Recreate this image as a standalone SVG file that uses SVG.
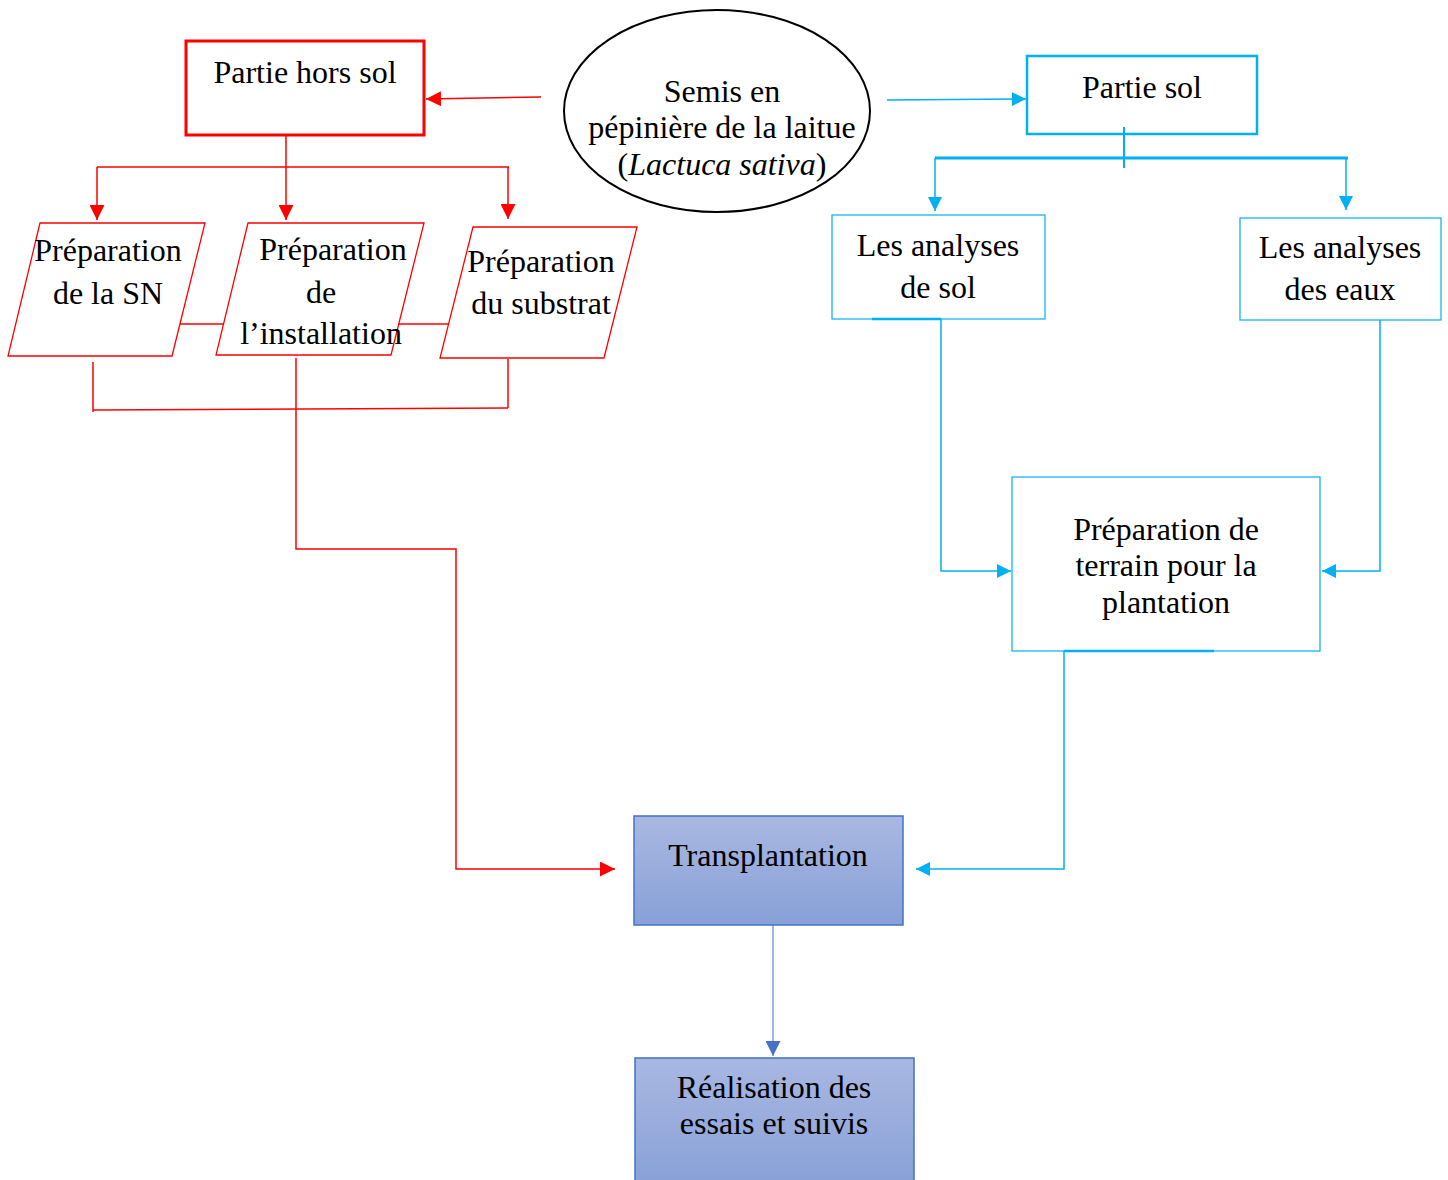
<svg xmlns="http://www.w3.org/2000/svg" width="1448" height="1180" viewBox="0 0 1448 1180">
<defs>
<linearGradient id="g" x1="0" y1="0" x2="0" y2="1">
<stop offset="0" stop-color="#A9B8E2"/>
<stop offset="1" stop-color="#88A0D7"/>
</linearGradient>
<marker id="ar" viewBox="0 0 10 10" refX="10" refY="5" markerWidth="15" markerHeight="15" markerUnits="userSpaceOnUse" orient="auto"><path d="M0,0 L10,5 L0,10 Z" fill="#FF0000"/></marker>
<marker id="ab" viewBox="0 0 10 10" refX="10" refY="5" markerWidth="14" markerHeight="14" markerUnits="userSpaceOnUse" orient="auto"><path d="M0,0 L10,5 L0,10 Z" fill="#00B0F0"/></marker>
<marker id="ad" viewBox="0 0 10 10" refX="10" refY="5" markerWidth="15" markerHeight="15" markerUnits="userSpaceOnUse" orient="auto"><path d="M0,0 L10,5 L0,10 Z" fill="#4472C4"/></marker>
</defs>
<style>
text{font-family:"Liberation Serif","Times New Roman",serif;font-size:32px;fill:#000;text-anchor:middle}
.r{stroke:#FF0000;fill:none;stroke-width:1.5}
.b{stroke:#00B0F0;fill:none;stroke-width:1.5}
.nr{fill:#fff;stroke:#FF0000;stroke-width:1.3}
.nb{fill:#fff;stroke:#00B0F0;stroke-width:1.2}
.nd{fill:url(#g);stroke:#4472C4;stroke-width:1.5}
</style>
<rect width="1448" height="1180" fill="#fff"/>
<g id="connectors">
<path class="r" d="M541,97 L426,99" marker-end="url(#ar)"/>
<path class="r" d="M286,135 L286,220" marker-end="url(#ar)"/>
<path class="r" d="M97,167 L509,167"/>
<path class="r" d="M97,167 L97,220" marker-end="url(#ar)"/>
<path class="r" d="M508,167 L508,219" marker-end="url(#ar)"/>
<path class="r" d="M180,324 L224,324"/>
<path class="r" d="M399,324 L449,324"/>
<path class="r" d="M93,362 L93,412"/>
<path class="r" d="M508,359 L508,408"/>
<path class="r" d="M93,410 L508,408"/>
<path class="r" d="M296,358 L296,549 L456,549 L456,869 L615,869" marker-end="url(#ar)"/>
<path class="b" d="M887,100 L1026,99" marker-end="url(#ab)"/>
<path class="b" style="stroke-width:3" d="M935,158 L1348,158"/>
<path class="b" d="M935,158 L935,211" marker-end="url(#ab)"/>
<path class="b" d="M1346,158 L1346,210" marker-end="url(#ab)"/>
<path class="b" d="M941,319 L941,571 L1011,571" marker-end="url(#ab)"/>
<path class="b" d="M1380,320 L1380,571 L1322,571" marker-end="url(#ab)"/>
<path class="b" d="M1064,651 L1064,869 L916,869" marker-end="url(#ab)"/>
<path d="M773,925 L773,1056" stroke="#7F9FDB" stroke-width="1.5" fill="none" marker-end="url(#ad)"/>
</g>
<g id="n-hors-sol">
<rect x="186" y="41" width="238" height="94" fill="#fff" stroke="#FF0000" stroke-width="3"/>
<text x="305" y="83">Partie hors sol</text>
</g>
<g id="n-semis">
<ellipse cx="717" cy="111" rx="153" ry="101" fill="#fff" stroke="#000" stroke-width="2"/>
<text x="722" y="102">Semis en</text>
<text x="722" y="138">pépinière de la laitue</text>
<text x="722" y="175">(<tspan font-style="italic">Lactuca sativa</tspan>)</text>
</g>
<g id="n-sol">
<rect x="1027" y="56" width="230" height="78" fill="#fff" stroke="#00B0F0" stroke-width="2.5"/>
<path d="M1124,127 L1124,168" stroke="#00B0F0" stroke-width="2"/>
<text x="1142" y="98">Partie sol</text>
</g>
<g id="n-sn">
<polygon class="nr" points="40,223 205,223 172,356 8,356"/>
<text x="108" y="261">Préparation</text>
<text x="108" y="304">de la SN</text>
</g>
<g id="n-installation">
<polygon class="nr" points="248,223 424,223 391,355 216,355"/>
<text x="333" y="260">Préparation</text>
<text x="321" y="303">de</text>
<text x="321" y="344">l’installation</text>
</g>
<g id="n-substrat">
<polygon class="nr" points="473,227 637,227 604,358 440,358"/>
<text x="541" y="272">Préparation</text>
<text x="541" y="314">du substrat</text>
</g>
<g id="n-analyses-sol">
<rect class="nb" x="832" y="215" width="213" height="104"/>
<path d="M872,319 L941,319" stroke="#00B0F0" stroke-width="2.5"/>
<text x="938" y="256">Les analyses</text>
<text x="938" y="298">de sol</text>
</g>
<g id="n-analyses-eaux">
<rect class="nb" x="1240" y="218" width="201" height="102"/>
<text x="1340" y="258">Les analyses</text>
<text x="1340" y="300">des eaux</text>
</g>
<g id="n-terrain">
<rect class="nb" x="1012" y="477" width="308" height="174"/>
<path d="M1064,651 L1214,651" stroke="#00B0F0" stroke-width="2.5"/>
<text x="1166" y="540">Préparation de</text>
<text x="1166" y="576">terrain pour la</text>
<text x="1166" y="613">plantation</text>
</g>
<g id="n-transplantation">
<rect class="nd" x="634" y="816" width="269" height="109"/>
<text x="768" y="866">Transplantation</text>
</g>
<g id="n-realisation">
<rect class="nd" x="635" y="1058" width="279" height="130"/>
<text x="774" y="1098">Réalisation des</text>
<text x="774" y="1134">essais et suivis</text>
</g>
</svg>
